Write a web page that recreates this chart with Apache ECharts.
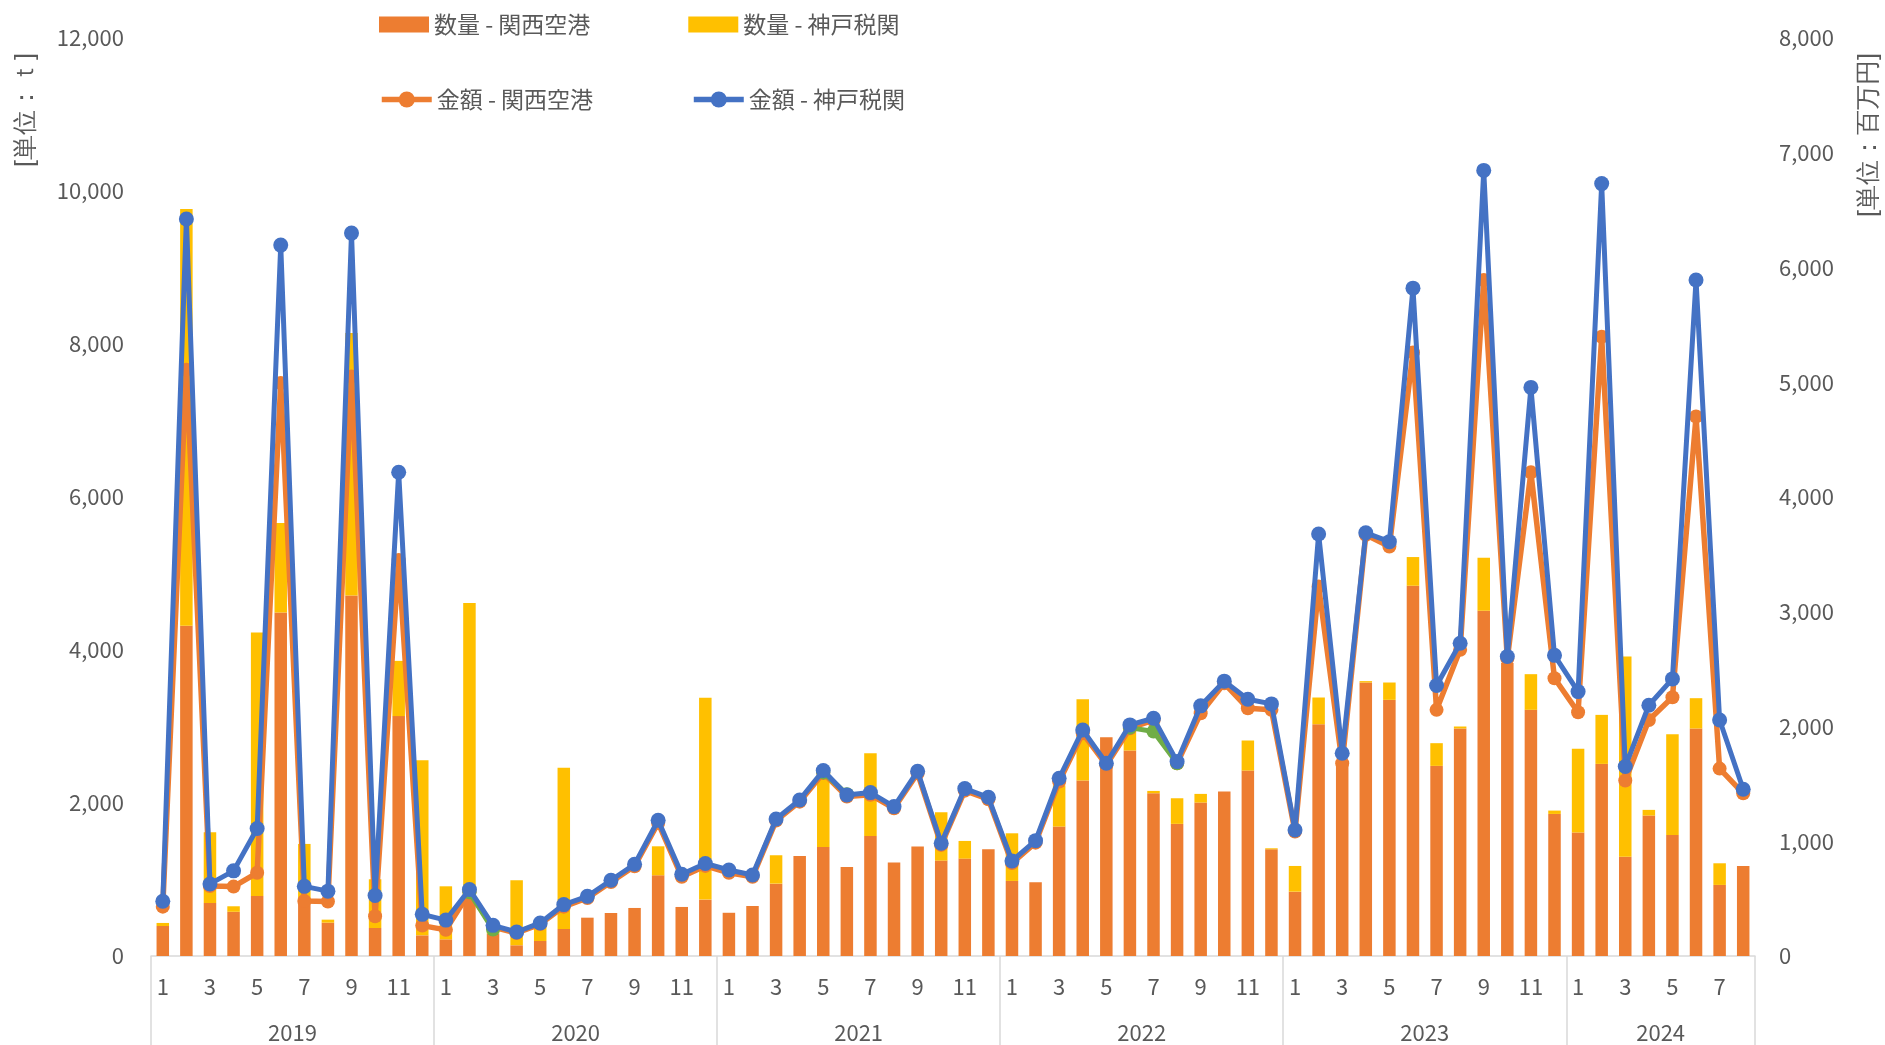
<!DOCTYPE html>
<html>
<head>
<meta charset="utf-8">
<script src="https://cdn.jsdelivr.net/npm/echarts@6/dist/echarts.min.js"></script>
<style>
html,body{margin:0;padding:0;background:#fff;}
#chart{width:1885px;height:1045px;}
</style>
</head>
<body>
<div id="chart"></div>
<script>
// ---- data ----
const years = ['2019', '2020', '2021', '2022', '2023', '2024'];
const monthsInYear = [12, 12, 12, 12, 12, 8];

// 数量 (t)
const kansaiQty = [
  392, 4316, 693, 578, 785, 4490, 700, 436, 4713, 366, 3136, 270,
  218, 780, 290, 140, 196, 353, 501, 562, 628, 1055, 641, 737,
  565, 654, 946, 1308, 1426, 1164, 1570, 1221, 1430, 1247, 1273, 1395,
  981, 964, 1692, 2293, 2860, 2686, 2128, 1727, 2006, 2150, 2424, 1395,
  841, 3030, 2530, 3575, 3348, 4840, 2485, 2974, 4513, 3830, 3218, 1857,
  1613, 2511, 1299, 1836, 1583, 2974, 929, 1177
];
const kobeQty = [
  40, 5450, 924, 72, 3444, 1170, 765, 39, 3431, 637, 722, 2290,
  693, 3834, 20, 850, 200, 2107, 0, 0, 0, 379, 0, 2639,
  0, 0, 371, 0, 975, 0, 1081, 0, 0, 632, 231, 0,
  623, 0, 540, 1064, 0, 260, 30, 335, 113, 0, 393, 13,
  336, 349, 0, 18, 227, 375, 297, 26, 693, 0, 466, 44,
  1095, 641, 2616, 74, 1316, 396, 283, 0
];

// 金額 (百万円) – stacked lines
const kansaiAmt = [
  430, 5110, 610, 605, 725, 4993, 480, 475, 5050, 346, 3450, 265,
  228, 555, 253, 200, 278, 430, 506, 645, 782, 1160, 690, 785,
  725, 690, 1180, 1345, 1595, 1390, 1405, 1287, 1592, 968, 1441, 1366,
  810, 988, 1520, 1941, 1665, 1985, 2055, 1680, 2115, 2377, 2159, 2145,
  1084, 3220, 1680, 3670, 3569, 5260, 2145, 2668, 5890, 2590, 4215, 2421,
  2124, 5397, 1529, 2057, 2255, 4702, 1633, 1418
];
const kobeAmt = [
  47, 1313, 18, 137, 386, 1202, 127, 90, 1250, 181, 766, 98,
  85, 25, 14, 9, 10, 18, 14, 15, 17, 23, 22, 21,
  25, 16, 14, 15, 21, 14, 19, 15, 18, 14, 18, 17,
  18, 17, 29, 29, 15, 29, 17, 14, 65, 18, 79, 52,
  14, 457, 87, 18, 42, 560, 212, 58, 956, 20, 740, 199,
  180, 1334, 122, 128, 160, 1189, 424, 35
];
// hidden (non-legend) green line, visible only in a few spots
const greenAmt = [
  null, null, null, null, null, null, null, null, null, null, null, null,
  null, 555, 230, null, null, null, null, null, null, null, null, null,
  null, null, null, null, 1600, 1410, null, null, null, null, null, null,
  null, null, null, null, null, 1990, 1956, 1680, null, null, null, null,
  null, null, null, null, null, null, null, null, null, null, null, null,
  null, null, null, null, null, null, null, null
];

// ---- categories ----
const monthLabels = [];
const yearOfCat = [];
const yearLabelIdx = [];
const yearStartIdx = [];
years.forEach((y, yi) => {
  yearStartIdx.push(monthLabels.length);
  yearLabelIdx.push(monthLabels.length + Math.floor((monthsInYear[yi] - 1) / 2));
  for (let m = 1; m <= monthsInYear[yi]; m++) {
    monthLabels.push(String(m));
    yearOfCat.push(y);
  }
});

const FONT = "'Noto Sans CJK JP', 'Noto Sans', sans-serif";
const GREY = '#595959';
const AXIS = '#d9d9d9';

const chart = echarts.init(document.getElementById('chart'), null, {renderer: 'canvas'});
chart.setOption({
  animation: false,
  backgroundColor: '#ffffff',
  textStyle: {fontFamily: FONT, color: GREY},
  grid: {left: 151, right: 130, top: 38, bottom: 89},
  legend: [
    {
      data: ['数量 - 関西空港', '数量 - 神戸税関'],
      left: 374, top: 8, orient: 'horizontal',
      itemWidth: 50, itemHeight: 16, itemGap: 98, icon: 'rect',
      textStyle: {fontSize: 23, color: GREY, fontFamily: FONT},
      selectedMode: false
    },
    {
      data: ['金額 - 関西空港', '金額 - 神戸税関'],
      left: 374, top: 83, orient: 'horizontal',
      itemWidth: 50, itemHeight: 20, itemGap: 98,
      lineStyle: {width: 5.5},
      textStyle: {fontSize: 23, color: GREY, fontFamily: FONT},
      selectedMode: false
    }
  ],
  xAxis: [
    {
      type: 'category', data: monthLabels, position: 'bottom',
      axisLine: {show: true, lineStyle: {color: AXIS, width: 1.5}},
      axisTick: {show: false},
      axisLabel: {interval: 1, fontSize: 22, color: GREY, margin: 20, fontFamily: FONT}
    },
    {
      type: 'category', data: yearOfCat, position: 'bottom', gridIndex: 0,
      axisLine: {show: false},
      axisTick: {
        show: true, length: 92, inside: false,
        interval: (i) => yearStartIdx.indexOf(i) >= 0,
        lineStyle: {color: AXIS, width: 1.5}
      },
      axisLabel: {
        interval: (i) => yearLabelIdx.indexOf(i) >= 0,
        fontSize: 22, color: GREY, margin: 66, fontFamily: FONT,
        padding: [0, 0, 0, 23.6]
      }
    }
  ],
  yAxis: [
    {
      type: 'value', min: 0, max: 12000, interval: 2000,
      axisLine: {show: false}, axisTick: {show: false}, splitLine: {show: false},
      axisLabel: {fontSize: 22, color: GREY, margin: 27, fontFamily: FONT}
    },
    {
      type: 'value', min: 0, max: 8000, interval: 1000, position: 'right',
      axisLine: {show: false}, axisTick: {show: false}, splitLine: {show: false},
      axisLabel: {fontSize: 22, color: GREY, margin: 24, fontFamily: FONT}
    }
  ],
  graphic: [
    {
      type: 'text', x: 26, y: 110, rotation: Math.PI / 2,
      style: {text: '[単位：ｔ]', fontSize: 25, fill: GREY, font: '25px ' + FONT,
              align: 'center', verticalAlign: 'middle'}
    },
    {
      type: 'text', x: 1869, y: 135, rotation: Math.PI / 2,
      style: {text: '[単位：百万円]', fontSize: 25, fill: GREY, font: '25px ' + FONT,
              align: 'center', verticalAlign: 'middle'}
    }
  ],
  series: [
    {
      name: '数量 - 関西空港', type: 'bar', stack: 'qty', data: kansaiQty,
      barWidth: '53%', itemStyle: {color: '#ED7D31'}, z: 2
    },
    {
      name: '数量 - 神戸税関', type: 'bar', stack: 'qty', data: kobeQty,
      barWidth: '53%', itemStyle: {color: '#FFC000'}, z: 2
    },
    {
      name: '金額 - 関西空港', type: 'line', yAxisIndex: 1, stack: 'amt', data: kansaiAmt,
      symbol: 'circle', symbolSize: 14, showAllSymbol: true,
      lineStyle: {color: '#ED7D31', width: 5.5}, itemStyle: {color: '#ED7D31'}, z: 3
    },
    {
      name: '金額 - その他', type: 'line', yAxisIndex: 1, data: greenAmt,
      symbol: 'circle', symbolSize: 14, showAllSymbol: true, connectNulls: false,
      lineStyle: {color: '#70AD47', width: 5}, itemStyle: {color: '#70AD47'}, z: 4
    },
    {
      name: '金額 - 神戸税関', type: 'line', yAxisIndex: 1, stack: 'amt', data: kobeAmt,
      symbol: 'circle', symbolSize: 15, showAllSymbol: true,
      lineStyle: {color: '#4472C4', width: 5}, itemStyle: {color: '#4472C4'}, z: 5
    }
  ]
});
</script>
</body>
</html>
